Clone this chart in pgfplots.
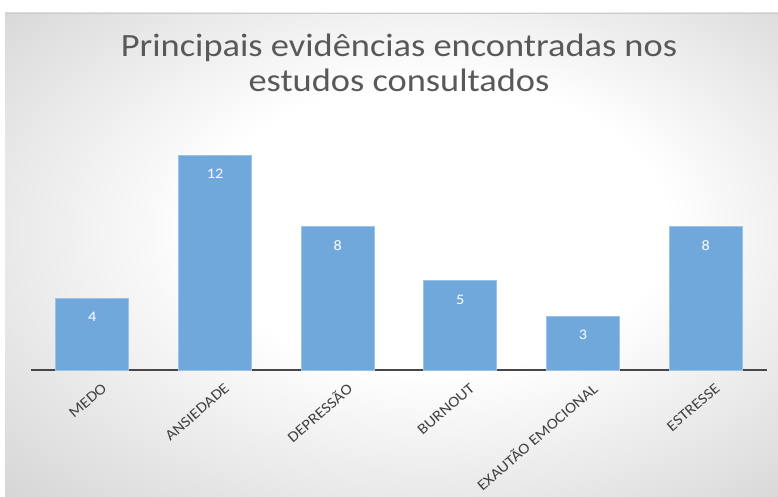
\documentclass[border=0pt]{standalone}
\usepackage{pgfplots}
\pgfplotsset{compat=1.18}
\usepackage{fontspec}
\setmainfont[FakeStretch=1.12]{Carlito}
\definecolor{barblue}{HTML}{70A8DC}
\definecolor{baredge}{HTML}{9CC3E6}
\definecolor{titlegray}{HTML}{595959}
\definecolor{labgray}{HTML}{404040}
\pgfdeclareradialshading{bgshade}{\pgfpoint{4bp}{4bp}}{color(0bp)=(white); color(15bp)=(white); color(52bp)=(black!27)}
\begin{document}
\begin{tikzpicture}[x=1pt,y=1pt]
\useasboundingbox (0,0) rectangle (778,496);
\fill[white] (0,0) rectangle (778,496);
\shade[shading=bgshade] (5,0) rectangle (778,483);
\draw[black!20, line width=0.8pt] (5,483) -- (778,483);
\node[font=\fontsize{32.5}{35}\selectfont, text=titlegray, align=center, anchor=center] at (399,433) {Principais evidências encontradas nos\\estudos consultados};
\begin{axis}[
  at={(31pt,126pt)}, anchor=south west,
  scale only axis, width=736pt, height=215pt,
  xmin=-0.5, xmax=5.5, ymin=0, ymax=12,
  hide y axis,
  axis x line*=bottom,
  x axis line style={line width=2.4pt, color=black!72, -},
  xtick=data,
  xticklabels={MEDO,ANSIEDADE,DEPRESSÃO,BURNOUT,EXAUTÃO EMOCIONAL,ESTRESSE},
  major tick length=0pt,
  xticklabel style={rotate=41, anchor=east, font=\fontsize{15}{17}\selectfont, text=labgray, xshift=2pt, yshift=-20pt},
  ybar, bar width=73pt, bar shift=0pt,
  nodes near coords,
  every node near coord/.append style={anchor=center, yshift=-19pt, text=white, font=\fontsize{14.5}{16}\selectfont},
  /pgf/number format/assume math mode=true,
  clip=false,
]
\addplot[fill=barblue, draw=baredge, line width=1pt] coordinates {(0,4) (1,12) (2,8) (3,5) (4,3) (5,8)};
\end{axis}
\end{tikzpicture}
\end{document}
